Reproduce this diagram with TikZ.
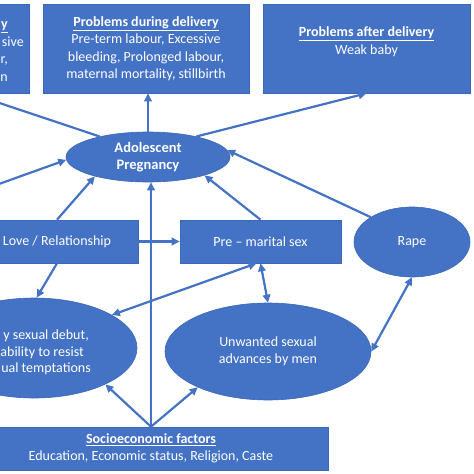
\documentclass[tikz,border=0pt]{standalone}
\usepackage{fontspec}
\setmainfont{Carlito}
\usetikzlibrary{arrows.meta,shapes.geometric,calc}
\definecolor{obl}{HTML}{4472C4}
\definecolor{obd}{HTML}{3B68B8}
\begin{document}
\begin{tikzpicture}[x=1pt,y=-1pt,
  txt/.style={text=white,font=\fontsize{14}{17.5}\selectfont,align=center,inner sep=0pt},
  bx/.style={rectangle,fill=obl,draw=obd,line width=0.6pt,inner sep=0pt,txt},
  el/.style={ellipse,fill=obl,draw=obd,line width=0.6pt,inner sep=0pt,txt},
  con/.style={draw=obl,line width=2.2pt,-{Triangle[length=8pt,width=7.5pt]}},
  dcon/.style={draw=obl,line width=2.2pt,{Triangle[length=8pt,width=7.5pt]}-{Triangle[length=8pt,width=7.5pt]}}]
\useasboundingbox (0,0) rectangle (474,474);
\fill[white] (0,0) rectangle (474,474);
\clip (0,0) rectangle (474,474);

% top boxes
\node[bx,minimum width=205,minimum height=89] (tl) at (-73.5,48.5) {};
\node[txt,anchor=base east] (tl1) at (8,28.5) {\underline{\textbf{y}}};
\node[txt,anchor=base east] (tl2) at (24,46) {sive};
\node[txt,anchor=base east] (tl3) at (8,63.5) {r,};
\node[txt,anchor=base east] (tl4) at (8,81) {n};

\node[bx,minimum width=206,minimum height=89] (tm) at (146,48.5)
  {\underline{\textbf{Problems during delivery}}\\Pre-term labour, Excessive\\bleeding, Prolonged labour,\\maternal mortality, stillbirth};

\node[bx,minimum width=207,minimum height=89] (tr) at (366.5,48.5) {};
\node[txt] (trt) at (366.5,41.5) {\underline{\textbf{Problems after delivery}}\\Weak baby};

% middle
\node[el,minimum width=164,minimum height=50,font=\fontsize{14.5}{17}\selectfont\bfseries] (ap) at (148,157) {Adolescent\\Pregnancy};
\node[bx,minimum width=162,minimum height=43] (love) at (57,241.5) {Love / Relationship};
\node[bx,minimum width=161,minimum height=43] (pms) at (260.5,241.5) {Pre – marital sex};
\node[el,minimum width=116,minimum height=70] (rape) at (412,242) {Rape};

% lower
\node[el,minimum width=206,minimum height=100] (ed) at (34,348) {};
\node[txt,anchor=base east] (ed1) at (89,339.5) {y sexual debut,};
\node[txt,anchor=base east] (ed2) at (84,356) {ability to resist};
\node[txt,anchor=base east] (ed3) at (91,372.5) {ual temptations};
\node[el,minimum width=206,minimum height=97] (uw) at (268,351.5) {Unwanted sexual\\advances by men};
\node[bx,minimum width=354,minimum height=43,font=\fontsize{14}{17}\selectfont] (se) at (151,448.5)
  {\underline{\textbf{Socioeconomic factors}}\\Education, Economic status, Religion, Caste};

% connectors
\coordinate (lx) at (-40,198);
\draw[con] (ap.north) -- (ap.north |- tm.south);
\draw[con] (ap.23) -- (tr.south);
\draw[con] (ap.157) -- ($(tl.south)+(44,0)$);
\draw[con] (lx) -- (ap.182);
\draw[con] (love.north) -- (ap.200);
\draw[con] (love.east) -- (pms.west);
\draw[con] (love.south) -- (ed.87);
\draw[con] (pms.north) -- (ap.342);
\draw[con] (rape.149) -- (ap.5);
\draw[dcon] (pms.south) -- (uw.north);
\draw[dcon] (rape.south) -- (uw.east);
\draw[dcon] ($(pms.south)+(-4,0)$) -- (ed.23);
\draw[con] (se.north) -- (se.north |- ap.south);
\draw[con] (se.north) -- (ed.333);
\draw[con] (se.north) -- (uw.207);
\end{tikzpicture}
\end{document}
